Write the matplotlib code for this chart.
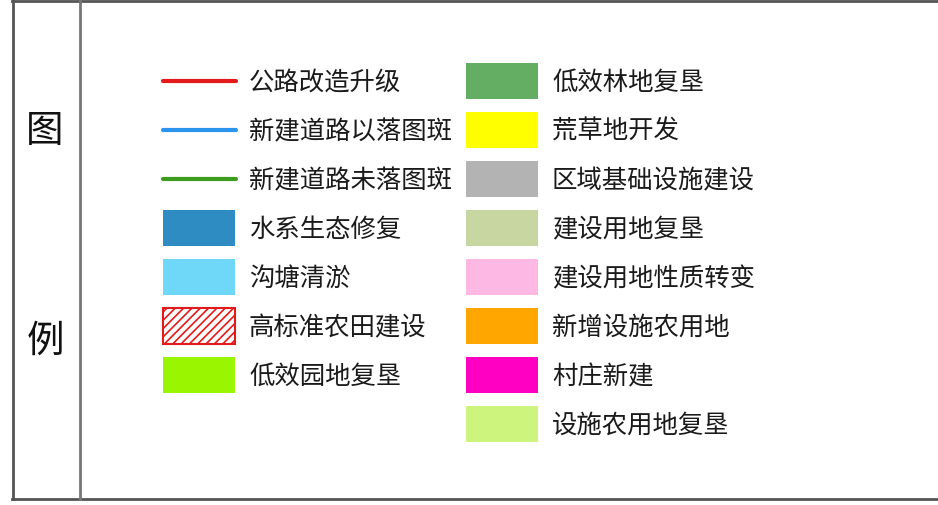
import matplotlib
matplotlib.use("Agg")
import matplotlib.pyplot as plt
from matplotlib.patches import Rectangle

plt.rcParams['font.family'] = ['Noto Sans CJK SC', 'DejaVu Sans']
plt.rcParams['hatch.linewidth'] = 1.2

# legend entries: (kind, colour, label)
left_labels = ["公路改造升级", "新建道路以落图斑", "新建道路未落图斑",
               "水系生态修复", "沟塘清淤", "高标准农田建设", "低效园地复垦"]
left_kinds = ["line", "line", "line", "box", "box", "hatch", "box"]
left_colors = ["#e31a1c", "#2b95ee", "#3c9c1e",
               "#2f8cc2", "#6fd8f8", "#e31a1c", "#99f500"]

right_labels = ["低效林地复垦", "荒草地开发", "区域基础设施建设", "建设用地复垦",
                "建设用地性质转变", "新增设施农用地", "村庄新建", "设施农用地复垦"]
right_kinds = ["box"] * 8
right_colors = ["#63ae63", "#ffff00", "#b3b3b3", "#c8d7a2",
                "#fdb8e3", "#ffa600", "#ff00c3", "#cdf47d"]

fig = plt.figure(figsize=(9.38, 5.06), dpi=100)
ax = fig.add_axes([0, 0, 1, 1])
ax.set_xlim(0, 938)
ax.set_ylim(506, 0)
ax.axis("off")

# frame
frame = dict(color="#555555", lw=2)
ax.plot([12, 938], [1.5, 1.5], **frame)
ax.plot([12, 938], [500, 500], **frame)
ax.plot([12.5, 12.5], [1.5, 500], **frame)
ax.plot([80, 80], [1.5, 500], color="#777777", lw=2)

ax.text(45, 131, "图", fontsize=27, ha="center", va="center", color="#111111")
ax.text(45, 341, "例", fontsize=27, ha="center", va="center", color="#111111")


def draw_column(x0, labels, kinds, colors):
    w, h, gap = 72, 36, 49
    for i, (lab, kind, col) in enumerate(zip(labels, kinds, colors)):
        yc = 82 + i * gap
        if kind == "line":
            ax.plot([x0, x0 + w + 1], [yc, yc], color=col, lw=3, solid_capstyle="round")
        elif kind == "hatch":
            ax.add_patch(Rectangle((x0, yc - h / 2), w, h, facecolor="white",
                                   edgecolor=col, hatch="////", lw=1.5))
        else:
            ax.add_patch(Rectangle((x0, yc - h / 2), w, h, facecolor=col,
                                   edgecolor="none"))
        ax.text(x0 + 86, yc + 1, lab, fontsize=18.3, ha="left", va="center",
                color="#1a1a1a", fontweight="medium")


draw_column(163, left_labels, left_kinds, left_colors)
draw_column(466, right_labels, right_kinds, right_colors)

fig.savefig("out.png", dpi=100, facecolor="white")
